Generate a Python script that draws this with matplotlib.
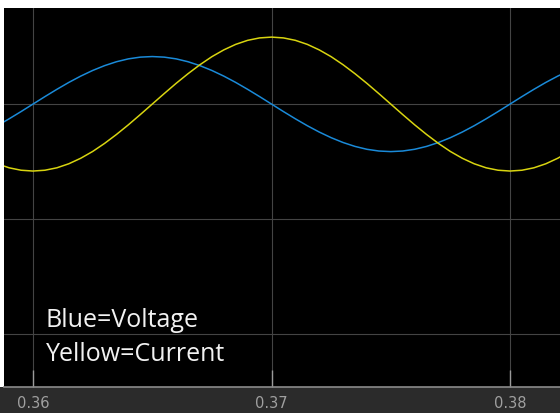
import matplotlib
matplotlib.use('Agg')
import matplotlib.pyplot as plt

# sample times (s) and scope readings
time_s = [0.3585, 0.3590, 0.3595, 0.3600, 0.3605, 0.3610, 0.3615, 0.3620,
          0.3625, 0.3630, 0.3635, 0.3640, 0.3645, 0.3650, 0.3655, 0.3660,
          0.3665, 0.3670, 0.3675, 0.3680, 0.3685, 0.3690, 0.3695, 0.3700,
          0.3705, 0.3710, 0.3715, 0.3720, 0.3725, 0.3730, 0.3735, 0.3740,
          0.3745, 0.3750, 0.3755, 0.3760, 0.3765, 0.3770, 0.3775, 0.3780,
          0.3785, 0.3790, 0.3795, 0.3800, 0.3805, 0.3810, 0.3815, 0.3820,
          0.3825]

voltage = [-0.188, -0.128, -0.065, 0.000, 0.065, 0.128, 0.188, 0.243,
           0.292, 0.334, 0.368, 0.393, 0.408, 0.413, 0.408, 0.393,
           0.368, 0.334, 0.292, 0.243, 0.188, 0.128, 0.065, 0.000,
           -0.065, -0.128, -0.188, -0.243, -0.292, -0.334, -0.368, -0.393,
           -0.408, -0.413, -0.408, -0.393, -0.368, -0.334, -0.292, -0.243,
           -0.188, -0.128, -0.065, 0.000, 0.065, 0.128, 0.188, 0.243,
           0.292]

current = [-0.519, -0.554, -0.575, -0.582, -0.575, -0.554, -0.519, -0.471,
           -0.412, -0.342, -0.264, -0.180, -0.091, 0.000, 0.091, 0.180,
           0.264, 0.342, 0.412, 0.471, 0.519, 0.554, 0.575, 0.582,
           0.575, 0.554, 0.519, 0.471, 0.412, 0.342, 0.264, 0.180,
           0.091, 0.000, -0.091, -0.180, -0.264, -0.342, -0.412, -0.471,
           -0.519, -0.554, -0.575, -0.582, -0.575, -0.554, -0.519, -0.471,
           -0.412]

x_ticks = [0.36, 0.37, 0.38]
x_tick_labels = ['0.36', '0.37', '0.38']
y_grid = [-2, -1, 0]

W, H = 560, 414
fig = plt.figure(figsize=(W / 100, H / 100), dpi=100)
fig.patch.set_facecolor('white')

# dark strip under the axes, where the tick labels sit
strip = plt.Rectangle((0, 0), 1, 26 / H, transform=fig.transFigure,
                      facecolor='#2b2b2b', edgecolor='none', zorder=-5)
fig.patches.append(strip)

ax = fig.add_axes([4 / W, 26 / H, 556 / W, 379 / H])
ax.set_facecolor('black')

ax.plot(time_s, voltage, color='#1a8ad8', linewidth=1.1)
ax.plot(time_s, current, color='#d8d410', linewidth=1.1)

ax.set_xticks(x_ticks)
ax.set_xticklabels(x_tick_labels)
ax.set_yticks(y_grid)
ax.set_yticklabels([])
ax.set_xlim(0.358784, 0.382096)
ax.set_ylim(-2.459, 0.835)
ax.grid(True, color='#444444', linewidth=0.8)
ax.set_axisbelow(True)

ax.tick_params(axis='x', direction='in', length=12, width=1.0, color='#9a9a9a',
               labelcolor='#a0a0a0', labelsize=10.5, pad=6)
ax.tick_params(axis='y', length=0)

for side in ['top', 'left', 'right']:
    ax.spines[side].set_visible(False)
ax.spines['bottom'].set_color('#8a8a8a')
ax.spines['bottom'].set_linewidth(1.2)

fig.text(46 / W, (H - 327) / H, 'Blue=Voltage', color='#f2f2f2',
         fontsize=18, family='Open Sans', va='baseline')
fig.text(46 / W, (H - 361) / H, 'Yellow=Current', color='#f2f2f2',
         fontsize=18, family='Open Sans', va='baseline')

fig.savefig('out.png', dpi=100, facecolor=fig.get_facecolor())
